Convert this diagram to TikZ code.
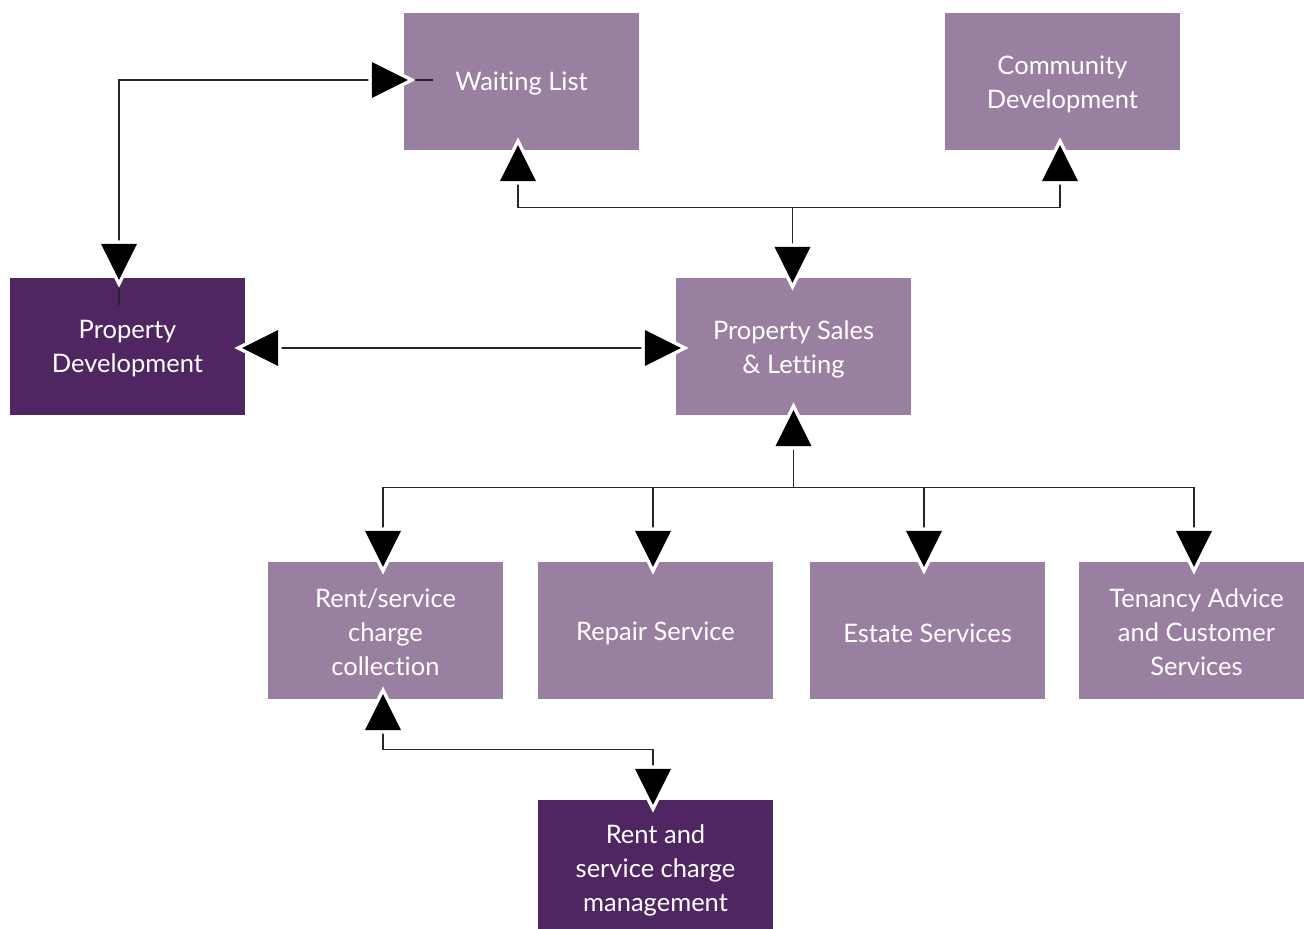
\documentclass[tikz,border=0pt]{standalone}
\usepackage{fontspec}
\setmainfont{Lato}[Ligatures=CommonOff]
\usetikzlibrary{calc}
\definecolor{lightp}{RGB}{154,128,160}
\definecolor{darkp}{RGB}{79,38,98}
\begin{document}
\begin{tikzpicture}[x=1pt,y=-1pt,
  box/.style={minimum width=235pt,minimum height=137pt,inner sep=0pt,text=white,align=center,font=\fontsize{25.5}{34}\selectfont},
  lbox/.style={box,fill=lightp},
  dbox/.style={box,fill=darkp},
  lbl/.style={text=white,align=center,inner sep=0pt,font=\fontsize{25.5}{34}\selectfont},
  conn/.style={line width=1.3pt,draw=black!85},
  tri/.pic={
    \path[draw=white,line width=7pt,line join=miter,miter limit=10] (0,0) -- (-36,-18) -- (-36,18) -- cycle;
    \path[fill=black] (0,0) -- (-36,-18) -- (-36,18) -- cycle;
  }]
\useasboundingbox[fill=white] (0,0) rectangle (1304,929);
% boxes
\node[lbox] (wl) at (521.5,81.5) {};
\node[lbox] (cd) at (1062.5,81.5) {};
\node[dbox] (pd) at (127.5,346.5) {};
\node[lbox] (ps) at (793.5,346.5) {};
\node[lbox] (rc) at (385.5,630.5) {};
\node[lbox] (rs) at (655.5,630.5) {};
\node[lbox] (es) at (927.5,630.5) {};
\node[lbox] (ta) at (1196.5,630.5) {};
\node[dbox] (rm) at (655.5,868.5) {};
% labels
\node[lbl] (wlt) at ($(wl.center)+(0,2.5)$) {Waiting List};
\node[lbl] (cdt) at ($(cd.center)+(0,2.5)$) {Community\\Development};
\node[lbl] (pdt) at ($(pd.center)+(0,2.5)$) {Property\\Development};
\node[lbl] (pst) at ($(ps.center)+(0,2.5)$) {Property Sales\\\& Letting};
\node[lbl] (rct) at ($(rc.center)+(0,2)$) {Rent/service\\charge\\collection};
\node[lbl] (rst) at ($(rs.center)+(0,2.5)$) {Repair Service};
\node[lbl] (est) at ($(es.center)+(0,2.5)$) {Estate Services};
\node[lbl] (tat) at ($(ta.center)+(0,2)$) {Tenancy Advice\\and Customer\\Services};
\node[lbl] (rmt) at ($(rm.center)+(0,2)$) {Rent and\\service charge\\management};
% connector 1: property development <-> waiting list
\coordinate (a1) at ($(pd.north)+(-8.5,0)$);
\coordinate (a2) at ($(wl.west)+(0,-1.5)$);
\draw[conn] ($(a1)+(0,27)$) |- ($(a2)+(29,0)$);
\pic at ($(a2)+(4,0)$) {tri};
\pic[rotate=-90] at ($(a1)+(0,2)$) {tri};
% connector 2: property sales <-> waiting list, community development
\coordinate (b1) at ($(wl.south)+(-3.5,0)$);
\coordinate (b2) at ($(cd.south)+(-2.5,0)$);
\coordinate (b3) at ($(ps.north)+(-1,0)$);
\draw[conn] ($(b1)+(0,10)$) |- ($(b2)+(0,57)$) -- ($(b2)+(0,10)$);
\draw[conn] ($(b3)+(0,-71)$) -- ($(b3)+(0,-10)$);
\pic[rotate=90] at ($(b1)+(0,-5)$) {tri};
\pic[rotate=90] at ($(b2)+(0,-5)$) {tri};
\pic[rotate=-90] at ($(b3)+(0,5)$) {tri};
% connector 3: property development <-> property sales
\draw[conn] ($(pd.east)+(10,1.5)$) -- ($(ps.west)+(-10,1.5)$);
\pic[rotate=180] at ($(pd.east)+(-3,1.5)$) {tri};
\pic at ($(ps.west)+(5,1.5)$) {tri};
% connector 4: property sales <-> service boxes
\coordinate (c1) at ($(rc.north)+(-2.5,0)$);
\coordinate (c2) at ($(rs.north)+(-2.5,0)$);
\coordinate (c3) at ($(es.north)+(-3.5,0)$);
\coordinate (c4) at ($(ta.north)+(-2.5,0)$);
\draw[conn] ($(ps.south)+(0,10)$) -- ($(ps.south)+(0,73)$);
\draw[conn] ($(c1)+(0,-10)$) |- ($(c4)+(0,-74)$) -- ($(c4)+(0,-10)$);
\draw[conn] ($(c2)+(0,-74)$) -- ($(c2)+(0,-10)$);
\draw[conn] ($(c3)+(0,-74)$) -- ($(c3)+(0,-10)$);
\pic[rotate=90] at ($(ps.south)+(0,-5)$) {tri};
\pic[rotate=-90] at ($(c1)+(0,5)$) {tri};
\pic[rotate=-90] at ($(c2)+(0,5)$) {tri};
\pic[rotate=-90] at ($(c3)+(0,5)$) {tri};
\pic[rotate=-90] at ($(c4)+(0,5)$) {tri};
% connector 5: rent collection <-> rent management
\coordinate (d1) at ($(rc.south)+(-2.5,0)$);
\coordinate (d2) at ($(rm.north)+(-2.5,0)$);
\draw[conn] ($(d1)+(0,10)$) |- ($(d2)+(0,-50)$) -- ($(d2)+(0,-10)$);
\pic[rotate=90] at ($(d1)+(0,-5)$) {tri};
\pic[rotate=-90] at ($(d2)+(0,5)$) {tri};
\end{tikzpicture}
\end{document}
